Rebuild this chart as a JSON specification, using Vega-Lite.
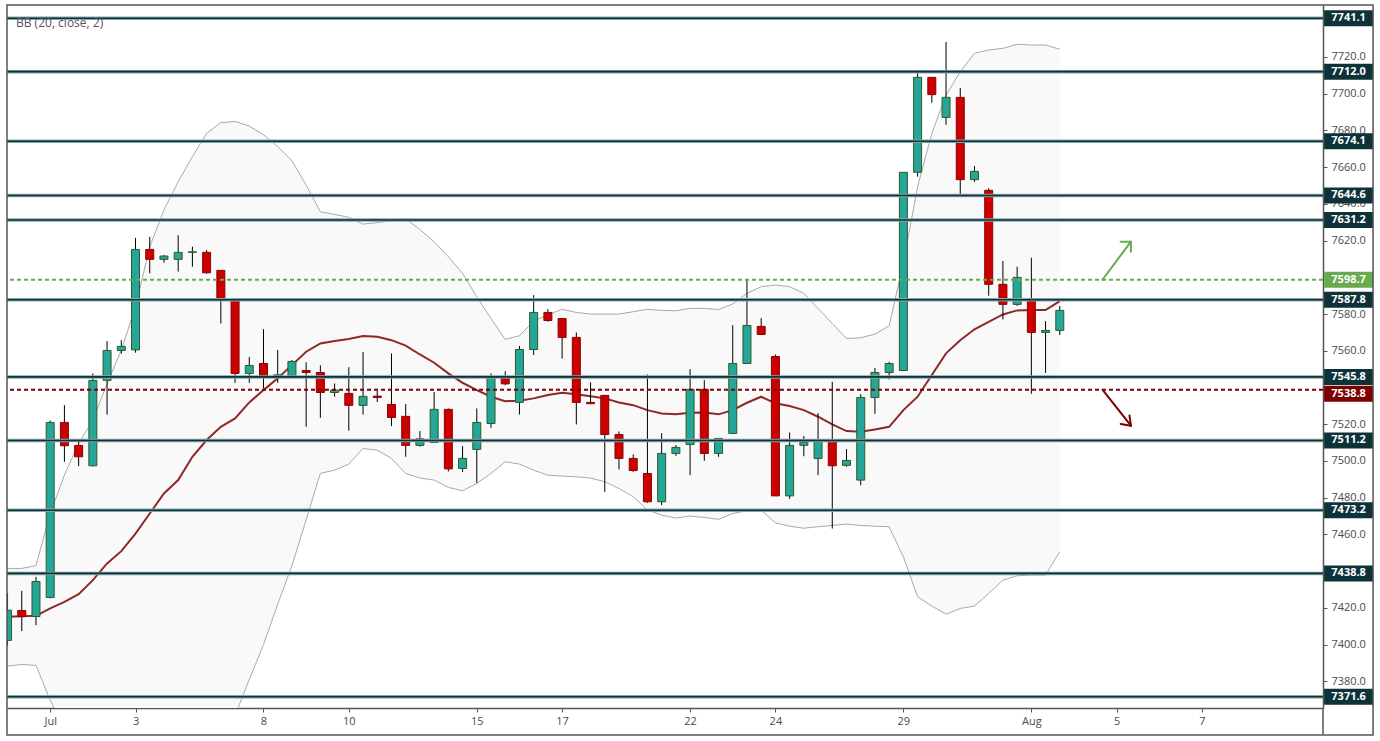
{
  "$schema": "https://vega.github.io/schema/vega-lite/v6.json",
  "width": 1316,
  "height": 703,
  "autosize": "none",
  "padding": {"left": 7, "top": 5, "right": 57, "bottom": 33},
  "background": "white",
  "title": {"text": "BB (20, close, 2)", "anchor": "start", "frame": "group", "orient": "top", "offset": -31, "dx": 9, "baseline": "middle", "fontSize": 12, "fontWeight": "normal", "color": "#555555", "font": "Open Sans"},
  "config": {"view": {"stroke": null}},
  "datasets": {
    "bars": [
      {"i":0,"o":7402.3,"h":7427.9,"l":7399.4,"c":7418.8,"up":7441.5,"mid":7415.2,"lo":7388.3},
      {"i":1,"o":7418.6,"h":7429.3,"l":7407.4,"c":7415.3,"up":7441.5,"mid":7415.4,"lo":7389.2},
      {"i":2,"o":7415.3,"h":7436.9,"l":7410.6,"c":7434.4,"up":7443.1,"mid":7415.7,"lo":7388.7},
      {"i":3,"o":7425.7,"h":7522.0,"l":7425.2,"c":7521.0,"up":7471.4,"mid":7419.7,"lo":7369.8},
      {"i":4,"o":7521.0,"h":7530.4,"l":7499.6,"c":7508.3,"up":7492.3,"mid":7423.3,"lo":7354.3},
      {"i":5,"o":7508.5,"h":7511.7,"l":7497.2,"c":7502.3,"up":7509.6,"mid":7427.5,"lo":7345.4},
      {"i":6,"o":7497.4,"h":7547.7,"l":7497.0,"c":7543.9,"up":7522.3,"mid":7435.1,"lo":7347.9},
      {"i":7,"o":7543.9,"h":7565.3,"l":7525.2,"c":7560.2,"up":7542.2,"mid":7444.2,"lo":7346.2},
      {"i":8,"o":7560.2,"h":7565.8,"l":7558.4,"c":7562.4,"up":7560.4,"mid":7450.9,"lo":7341.4},
      {"i":9,"o":7560.5,"h":7621.5,"l":7559.0,"c":7615.2,"up":7584.0,"mid":7460.5,"lo":7337.0},
      {"i":10,"o":7615.2,"h":7622.0,"l":7602.2,"c":7609.8,"up":7616.7,"mid":7471.4,"lo":7326.1},
      {"i":11,"o":7609.8,"h":7612.2,"l":7608.0,"c":7611.6,"up":7636.7,"mid":7482.3,"lo":7327.9},
      {"i":12,"o":7609.8,"h":7623.0,"l":7603.1,"c":7613.6,"up":7652.1,"mid":7489.6,"lo":7327.1},
      {"i":13,"o":7613.6,"h":7616.7,"l":7605.8,"c":7613.9,"up":7665.7,"mid":7502.3,"lo":7338.9},
      {"i":14,"o":7613.6,"h":7614.9,"l":7602.0,"c":7602.5,"up":7678.4,"mid":7511.4,"lo":7344.4},
      {"i":15,"o":7603.8,"h":7604.0,"l":7574.9,"c":7588.4,"up":7684.2,"mid":7518.6,"lo":7353.0},
      {"i":16,"o":7587.6,"h":7588.5,"l":7542.6,"c":7547.7,"up":7684.9,"mid":7523.2,"lo":7361.5},
      {"i":17,"o":7547.7,"h":7556.6,"l":7542.6,"c":7552.0,"up":7682.4,"mid":7531.9,"lo":7381.0},
      {"i":18,"o":7553.1,"h":7571.8,"l":7539.5,"c":7546.4,"up":7677.7,"mid":7538.6,"lo":7400.0},
      {"i":19,"o":7546.4,"h":7560.4,"l":7542.6,"c":7546.9,"up":7671.2,"mid":7545.0,"lo":7422.0},
      {"i":20,"o":7546.4,"h":7555.0,"l":7546.0,"c":7554.2,"up":7663.5,"mid":7552.2,"lo":7443.0},
      {"i":21,"o":7549.3,"h":7553.8,"l":7518.6,"c":7548.2,"up":7650.3,"mid":7559.5,"lo":7468.0},
      {"i":22,"o":7548.2,"h":7552.1,"l":7523.5,"c":7537.3,"up":7635.7,"mid":7564.0,"lo":7493.3},
      {"i":23,"o":7537.3,"h":7542.2,"l":7535.0,"c":7538.6,"up":7634.3,"mid":7565.3,"lo":7495.0},
      {"i":24,"o":7536.8,"h":7551.1,"l":7516.5,"c":7530.3,"up":7632.7,"mid":7566.4,"lo":7498.3},
      {"i":25,"o":7530.3,"h":7559.3,"l":7525.2,"c":7535.2,"up":7629.0,"mid":7568.0,"lo":7506.8},
      {"i":26,"o":7535.3,"h":7538.2,"l":7532.1,"c":7534.6,"up":7629.8,"mid":7567.7,"lo":7505.9},
      {"i":27,"o":7530.8,"h":7558.6,"l":7519.0,"c":7523.7,"up":7630.9,"mid":7565.8,"lo":7501.4},
      {"i":28,"o":7524.3,"h":7531.0,"l":7502.3,"c":7508.5,"up":7631.9,"mid":7562.8,"lo":7493.2},
      {"i":29,"o":7508.5,"h":7516.3,"l":7507.8,"c":7512.1,"up":7626.1,"mid":7558.0,"lo":7490.7},
      {"i":30,"o":7510.1,"h":7537.5,"l":7510.0,"c":7528.1,"up":7619.4,"mid":7553.5,"lo":7489.6},
      {"i":31,"o":7528.1,"h":7528.6,"l":7494.3,"c":7495.7,"up":7611.2,"mid":7547.7,"lo":7485.6},
      {"i":32,"o":7495.9,"h":7508.1,"l":7494.0,"c":7501.4,"up":7602.2,"mid":7542.6,"lo":7483.8},
      {"i":33,"o":7506.3,"h":7528.6,"l":7488.1,"c":7521.0,"up":7589.4,"mid":7538.6,"lo":7487.8},
      {"i":34,"o":7520.4,"h":7547.7,"l":7518.1,"c":7545.9,"up":7577.6,"mid":7535.0,"lo":7493.2},
      {"i":35,"o":7545.5,"h":7548.9,"l":7541.3,"c":7542.0,"up":7566.2,"mid":7532.6,"lo":7499.6},
      {"i":36,"o":7531.9,"h":7562.6,"l":7525.3,"c":7560.7,"up":7568.2,"mid":7532.8,"lo":7498.3},
      {"i":37,"o":7560.7,"h":7590.3,"l":7557.7,"c":7580.9,"up":7576.2,"mid":7534.1,"lo":7495.0},
      {"i":38,"o":7580.9,"h":7582.7,"l":7575.8,"c":7576.5,"up":7579.6,"mid":7535.9,"lo":7492.3},
      {"i":39,"o":7577.6,"h":7577.8,"l":7555.8,"c":7567.3,"up":7582.6,"mid":7537.2,"lo":7491.8},
      {"i":40,"o":7567.3,"h":7570.0,"l":7519.9,"c":7531.9,"up":7580.9,"mid":7536.4,"lo":7491.4},
      {"i":41,"o":7531.9,"h":7542.8,"l":7531.0,"c":7531.2,"up":7580.0,"mid":7535.3,"lo":7490.7},
      {"i":42,"o":7535.7,"h":7536.0,"l":7483.2,"c":7514.4,"up":7580.0,"mid":7534.1,"lo":7488.7},
      {"i":43,"o":7514.4,"h":7516.1,"l":7495.4,"c":7501.4,"up":7580.0,"mid":7531.9,"lo":7485.0},
      {"i":44,"o":7501.4,"h":7503.6,"l":7494.1,"c":7494.8,"up":7581.3,"mid":7530.4,"lo":7480.5},
      {"i":45,"o":7493.2,"h":7547.1,"l":7477.2,"c":7477.8,"up":7582.6,"mid":7527.7,"lo":7473.3},
      {"i":46,"o":7477.8,"h":7515.2,"l":7476.0,"c":7504.1,"up":7582.0,"mid":7525.9,"lo":7470.5},
      {"i":47,"o":7504.1,"h":7508.7,"l":7502.8,"c":7507.4,"up":7581.8,"mid":7525.4,"lo":7468.9},
      {"i":48,"o":7509.0,"h":7550.0,"l":7492.3,"c":7539.0,"up":7583.1,"mid":7526.3,"lo":7470.0},
      {"i":49,"o":7539.0,"h":7544.0,"l":7500.1,"c":7504.1,"up":7583.1,"mid":7526.4,"lo":7469.3},
      {"i":50,"o":7504.1,"h":7512.3,"l":7502.3,"c":7512.3,"up":7582.5,"mid":7525.4,"lo":7468.2},
      {"i":51,"o":7515.0,"h":7574.0,"l":7515.0,"c":7553.1,"up":7585.5,"mid":7527.7,"lo":7471.4},
      {"i":52,"o":7553.1,"h":7599.1,"l":7553.0,"c":7573.8,"up":7591.3,"mid":7531.7,"lo":7472.9},
      {"i":53,"o":7573.3,"h":7577.8,"l":7568.9,"c":7568.9,"up":7594.9,"mid":7535.0,"lo":7473.2},
      {"i":54,"o":7556.9,"h":7558.0,"l":7481.0,"c":7481.0,"up":7595.8,"mid":7531.4,"lo":7466.3},
      {"i":55,"o":7481.0,"h":7515.5,"l":7479.4,"c":7508.5,"up":7594.9,"mid":7529.9,"lo":7464.5},
      {"i":56,"o":7508.5,"h":7513.6,"l":7502.6,"c":7510.1,"up":7591.3,"mid":7527.7,"lo":7463.4},
      {"i":57,"o":7501.4,"h":7526.1,"l":7492.3,"c":7510.8,"up":7583.1,"mid":7524.1,"lo":7464.2},
      {"i":58,"o":7510.8,"h":7543.1,"l":7463.2,"c":7497.4,"up":7574.9,"mid":7519.9,"lo":7464.9},
      {"i":59,"o":7497.6,"h":7506.5,"l":7496.9,"c":7500.3,"up":7566.7,"mid":7516.3,"lo":7465.6},
      {"i":60,"o":7489.6,"h":7536.4,"l":7486.8,"c":7534.6,"up":7567.1,"mid":7515.9,"lo":7464.9},
      {"i":61,"o":7534.6,"h":7550.6,"l":7525.7,"c":7548.2,"up":7569.1,"mid":7517.2,"lo":7464.5},
      {"i":62,"o":7548.2,"h":7554.0,"l":7544.4,"c":7553.1,"up":7573.6,"mid":7518.6,"lo":7464.2},
      {"i":63,"o":7549.3,"h":7657.2,"l":7549.3,"c":7657.2,"up":7608.0,"mid":7527.7,"lo":7447.8},
      {"i":64,"o":7657.2,"h":7712.0,"l":7654.8,"c":7708.9,"up":7649.4,"mid":7535.0,"lo":7426.1},
      {"i":65,"o":7708.9,"h":7709.0,"l":7695.1,"c":7699.5,"up":7678.4,"mid":7546.8,"lo":7421.0},
      {"i":66,"o":7687.1,"h":7728.2,"l":7683.1,"c":7698.0,"up":7699.3,"mid":7558.6,"lo":7416.6},
      {"i":67,"o":7698.0,"h":7703.1,"l":7644.5,"c":7653.2,"up":7712.0,"mid":7565.8,"lo":7419.7},
      {"i":68,"o":7653.2,"h":7660.6,"l":7652.0,"c":7657.7,"up":7722.0,"mid":7571.7,"lo":7421.0},
      {"i":69,"o":7647.4,"h":7648.5,"l":7590.0,"c":7596.2,"up":7723.8,"mid":7575.8,"lo":7427.9},
      {"i":70,"o":7596.2,"h":7608.9,"l":7577.1,"c":7585.3,"up":7724.7,"mid":7579.8,"lo":7435.1},
      {"i":71,"o":7585.3,"h":7605.8,"l":7584.5,"c":7600.0,"up":7726.9,"mid":7582.0,"lo":7437.5},
      {"i":72,"o":7586.9,"h":7610.7,"l":7536.6,"c":7570.0,"up":7726.5,"mid":7582.2,"lo":7437.9},
      {"i":73,"o":7570.0,"h":7576.2,"l":7548.0,"c":7571.1,"up":7726.5,"mid":7582.2,"lo":7437.9},
      {"i":74,"o":7571.1,"h":7584.4,"l":7568.6,"c":7582.0,"up":7724.2,"mid":7587.1,"lo":7450.6}
    ],
    "levels": [
      {"v":7741.1,"t":"level"},{"v":7712.0,"t":"level"},{"v":7674.1,"t":"level"},{"v":7644.6,"t":"level"},
      {"v":7631.2,"t":"level"},{"v":7587.8,"t":"level"},{"v":7545.8,"t":"level"},{"v":7511.2,"t":"level"},
      {"v":7473.2,"t":"level"},{"v":7438.8,"t":"level"},{"v":7371.6,"t":"level"},
      {"v":7598.7,"t":"buy"},{"v":7538.8,"t":"sell"}
    ],
    "arrows": [
      {"xa":77,"ya":7598.7,"xb":79,"yb":7619.4,"t":"buy"},
      {"xa":79,"ya":7619.4,"xb":78.28,"yb":7619.4,"t":"buy"},
      {"xa":79,"ya":7619.4,"xb":79,"yb":7613.9,"t":"buy"},
      {"xa":77,"ya":7538.8,"xb":79,"yb":7519.2,"t":"sell"},
      {"xa":79,"ya":7519.2,"xb":78.28,"yb":7520.2,"t":"sell"},
      {"xa":79,"ya":7519.2,"xb":78.9,"yb":7524.8,"t":"sell"}
    ]
  },
  "layer": [
    {
      "data": {"name": "bars"},
      "mark": {"type": "area", "color": "#f9f9f9", "opacity": 1, "clip": true},
      "encoding": {
        "x": {"field": "i", "type": "quantitative", "title": null, "scale": {"domain": [-0.038, 92.51], "nice": false, "zero": false, "padding": 0}},
        "y": {"field": "lo", "type": "quantitative", "title": null, "scale": {"domain": [7365.5, 7748.3], "nice": false, "zero": false, "padding": 0}},
        "y2": {"field": "up"}
      }
    },
    {
      "data": {"name": "bars"},
      "mark": {"type": "line", "color": "#a9a9a9", "strokeWidth": 1, "clip": true},
      "encoding": {
        "x": {"field": "i", "type": "quantitative", "title": null},
        "y": {"field": "up", "type": "quantitative", "title": null}
      }
    },
    {
      "data": {"name": "bars"},
      "mark": {"type": "line", "color": "#a9a9a9", "strokeWidth": 1, "clip": true},
      "encoding": {
        "x": {"field": "i", "type": "quantitative", "title": null},
        "y": {"field": "lo", "type": "quantitative", "title": null}
      }
    },
    {
      "data": {"name": "bars"},
      "mark": {"type": "line", "color": "#8e2727", "strokeWidth": 2, "clip": true},
      "encoding": {
        "x": {"field": "i", "type": "quantitative", "title": null},
        "y": {"field": "mid", "type": "quantitative", "title": null}
      }
    },
    {
      "data": {"name": "bars"},
      "mark": {"type": "rule", "color": "#000000", "strokeWidth": 1, "clip": true},
      "encoding": {
        "x": {"field": "i", "type": "quantitative", "title": null},
        "y": {"field": "l", "type": "quantitative", "title": null},
        "y2": {"field": "h"}
      }
    },
    {
      "data": {"name": "bars"},
      "mark": {"type": "bar", "width": 8, "strokeWidth": 1, "clip": true},
      "encoding": {
        "x": {"field": "i", "type": "quantitative", "title": null, "scale": {"domain": [-0.038, 92.51], "nice": false, "zero": false, "padding": 0},
          "axis": {"orient": "bottom", "values": [3, 9, 18, 24, 33, 39, 48, 54, 63, 72, 78, 84], "labelExpr": "datum.value == 3 ? 'Jul' : datum.value == 9 ? '3' : datum.value == 18 ? '8' : datum.value == 24 ? '10' : datum.value == 33 ? '15' : datum.value == 39 ? '17' : datum.value == 48 ? '22' : datum.value == 54 ? '24' : datum.value == 63 ? '29' : datum.value == 72 ? 'Aug' : datum.value == 78 ? '5' : '7'", "grid": false, "domain": true, "domainColor": "#555555", "domainWidth": 1.5, "tickColor": "#555555", "tickSize": 4, "labelPadding": 3, "labelColor": "#4a4a4a", "labelFont": "Open Sans", "labelFontSize": 11, "labelOverlap": false}},
        "y": {"field": "o", "type": "quantitative", "title": null, "scale": {"domain": [7365.5, 7748.3], "nice": false, "zero": false, "padding": 0},
          "axis": {"orient": "right", "values": [7380, 7400, 7420, 7460, 7480, 7500, 7520, 7560, 7580, 7620, 7640, 7660, 7680, 7700, 7720], "format": ".1f", "grid": false, "domain": true, "domainColor": "#555555", "domainWidth": 1.5, "tickColor": "#555555", "tickSize": 4, "labelPadding": 4, "labelColor": "#4a4a4a", "labelFont": "Open Sans", "labelFontSize": 11, "labelOverlap": false}},
        "y2": {"field": "c"},
        "fill": {"condition": {"test": "datum.c >= datum.o", "value": "#26a69a"}, "value": "#cc0000"},
        "stroke": {"condition": {"test": "datum.c >= datum.o", "value": "#2b5d22"}, "value": "#8e0000"}
      }
    },
    {
      "data": {"name": "levels"},
      "transform": [{"filter": "datum.t == 'level'"}],
      "mark": {"type": "rule", "color": "#86a5aa", "strokeWidth": 3.5},
      "encoding": {"y": {"field": "v", "type": "quantitative", "title": null}}
    },
    {
      "data": {"name": "levels"},
      "transform": [{"filter": "datum.t == 'level'"}],
      "mark": {"type": "rule", "color": "#0e3239", "strokeWidth": 1.6},
      "encoding": {"y": {"field": "v", "type": "quantitative", "title": null}}
    },
    {
      "data": {"name": "levels"},
      "transform": [{"filter": "datum.t != 'level'"}],
      "mark": {"type": "rule", "strokeWidth": 2, "strokeDash": [4, 3]},
      "encoding": {
        "y": {"field": "v", "type": "quantitative", "title": null},
        "color": {"field": "t", "type": "nominal", "scale": {"domain": ["level", "buy", "sell"], "range": ["#0e3239", "#6aaa4f", "#7b0000"]}, "legend": null}
      }
    },
    {
      "data": {"name": "arrows"},
      "mark": {"type": "rule", "strokeWidth": 2, "strokeCap": "round", "clip": false},
      "encoding": {
        "x": {"field": "xa", "type": "quantitative", "title": null},
        "y": {"field": "ya", "type": "quantitative", "title": null},
        "x2": {"field": "xb"},
        "y2": {"field": "yb"},
        "color": {"field": "t", "type": "nominal", "legend": null}
      }
    },
    {
      "data": {"name": "levels"},
      "transform": [{"filter": "datum.t != 'sell'"}],
      "mark": {"type": "tick", "orient": "horizontal", "size": 49, "thickness": 16, "clip": false, "opacity": 1},
      "encoding": {
        "x": {"datum": 94.31, "type": "quantitative", "title": null},
        "y": {"field": "v", "type": "quantitative", "title": null},
        "color": {"field": "t", "type": "nominal", "legend": null}
      }
    },
    {
      "data": {"name": "levels"},
      "transform": [{"filter": "datum.t != 'sell'"}],
      "mark": {"type": "text", "color": "white", "fontWeight": "bold", "fontSize": 11, "font": "Open Sans", "align": "center", "baseline": "middle", "clip": false},
      "encoding": {
        "x": {"datum": 94.31, "type": "quantitative", "title": null},
        "y": {"field": "v", "type": "quantitative", "title": null},
        "text": {"field": "v", "type": "quantitative", "format": ".1f"}
      }
    },
    {
      "data": {"name": "levels"},
      "transform": [{"filter": "datum.t == 'sell'"}],
      "mark": {"type": "tick", "orient": "horizontal", "size": 49, "thickness": 16, "clip": false, "opacity": 1, "yOffset": 4},
      "encoding": {
        "x": {"datum": 94.31, "type": "quantitative", "title": null},
        "y": {"field": "v", "type": "quantitative", "title": null},
        "color": {"field": "t", "type": "nominal", "legend": null}
      }
    },
    {
      "data": {"name": "levels"},
      "transform": [{"filter": "datum.t == 'sell'"}],
      "mark": {"type": "text", "color": "white", "fontWeight": "bold", "fontSize": 11, "font": "Open Sans", "align": "center", "baseline": "middle", "clip": false, "yOffset": 4},
      "encoding": {
        "x": {"datum": 94.31, "type": "quantitative", "title": null},
        "y": {"field": "v", "type": "quantitative", "title": null},
        "text": {"field": "v", "type": "quantitative", "format": ".1f"}
      }
    },
    {
      "data": {"values": [{}]},
      "mark": {"type": "rect", "fill": null, "fillOpacity": 0, "stroke": "#555555", "strokeWidth": 1.5, "clip": false},
      "encoding": {
        "x": {"datum": -0.038, "type": "quantitative", "title": null},
        "x2": {"datum": 96.03},
        "y": {"datum": 7748.3, "type": "quantitative", "title": null},
        "y2": {"datum": 7350.8}
      }
    },
    {
      "data": {"values": [{}]},
      "mark": {"type": "rule", "color": "#555555", "strokeWidth": 1.5, "clip": false},
      "encoding": {
        "x": {"datum": 92.51, "type": "quantitative", "title": null},
        "y": {"datum": 7365.5, "type": "quantitative", "title": null},
        "y2": {"datum": 7350.8}
      }
    }
  ]
}
